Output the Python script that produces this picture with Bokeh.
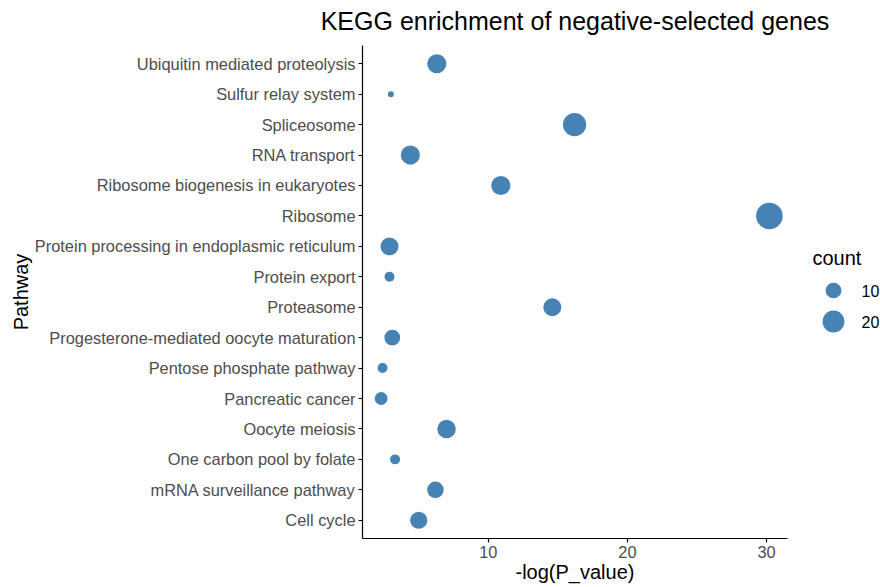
import numpy as np
from bokeh.plotting import figure
from bokeh.layouts import row, column
from bokeh.models import ColumnDataSource, Range1d, FixedTicker
from bokeh.core.properties import value
from bokeh.embed import file_html
from bokeh.resources import INLINE

# ---- data (top to bottom as in the chart) ----
pathways = [
    "Ubiquitin mediated proteolysis",
    "Sulfur relay system",
    "Spliceosome",
    "RNA transport",
    "Ribosome biogenesis in eukaryotes",
    "Ribosome",
    "Protein processing in endoplasmic reticulum",
    "Protein export",
    "Proteasome",
    "Progesterone-mediated oocyte maturation",
    "Pentose phosphate pathway",
    "Pancreatic cancer",
    "Oocyte meiosis",
    "One carbon pool by folate",
    "mRNA surveillance pathway",
    "Cell cycle",
]
neg_log_p = [6.3, 3.0, 16.2, 4.4, 10.9, 30.2, 2.9, 2.9, 14.6, 3.1, 2.4, 2.3, 7.0, 3.3, 6.2, 5.0]
counts = [15, 4, 23, 15, 15, 31, 13, 5, 13, 10, 5, 7, 14, 5, 11, 12]
x_ticks = [10, 20, 30]
legend_counts = [10, 20]
title_text = "KEGG enrichment of negative-selected genes"

FONT = "Liberation Sans"
COLOR = "#4682B4"

cmin, cmax = min(counts), max(counts)


def diam(c):
    c = np.asarray(c, dtype=float)
    return 2 * (3 + 10.3 * np.sqrt((c - cmin) / (cmax - cmin)))


n = len(pathways)
ypos = [n - i for i in range(n)]  # top item highest

TITLE_H = 40
MAIN_H = 587 - TITLE_H
FRAME_TOP, FRAME_BOTTOM = 45, 538

# ---- title strip ----
tf = figure(width=880, height=TITLE_H, output_backend="svg", toolbar_location=None,
            x_range=Range1d(0, 880), y_range=Range1d(TITLE_H, 0),
            x_axis_type=None, y_axis_type=None,
            min_border=0, min_border_left=0, min_border_right=0, min_border_top=0, min_border_bottom=0)
tf.outline_line_color = None
tf.xgrid.visible = False
tf.ygrid.visible = False
tf.text(x=[(362 + 787) / 2], y=[20], text=[title_text], text_font=value(FONT),
        text_font_size="25px", text_align="center", text_baseline="middle", text_color="black")

# ---- main plot ----
src = ColumnDataSource(dict(x=neg_log_p, y=ypos, size=diam(counts), name=pathways, count=counts))

p = figure(width=800, height=MAIN_H, output_backend="svg", toolbar_location=None,
           x_range=Range1d(0.96, 31.5), y_range=Range1d(0.4, n + 0.6),
           min_border_left=362, min_border_right=13, min_border_top=FRAME_TOP - TITLE_H,
           min_border_bottom=587 - FRAME_BOTTOM)
p.outline_line_color = None
p.xgrid.visible = False
p.ygrid.visible = False

p.scatter("x", "y", size="size", source=src, fill_color=COLOR, line_color=None, fill_alpha=1)

p.xaxis.ticker = FixedTicker(ticks=x_ticks)
p.yaxis.ticker = FixedTicker(ticks=ypos)
p.yaxis.major_label_overrides = {y: name for y, name in zip(ypos, pathways)}
p.xaxis.axis_label = "-log(P_value)"
p.yaxis.axis_label = "Pathway"

for ax in (p.xaxis, p.yaxis):
    ax.axis_line_color = "black"
    ax.axis_line_width = 1.2
    ax.major_tick_line_color = "black"
    ax.major_tick_line_width = 1.2
    ax.major_tick_out = 4
    ax.major_tick_in = 0
    ax.minor_tick_line_color = None
    ax.major_label_text_font = FONT
    ax.major_label_text_font_size = "16.4px"
    ax.major_label_text_color = "#4D4D4D"
    ax.axis_label_text_font = FONT
    ax.axis_label_text_font_size = "20px"
    ax.axis_label_text_font_style = "normal"
    ax.axis_label_text_color = "black"
    ax.major_label_standoff = 3
    ax.axis_label_standoff = 0

# ---- legend as a small companion figure (its frame is aligned with the main frame) ----
lg = figure(width=80, height=MAIN_H, output_backend="svg", toolbar_location=None,
            x_range=Range1d(0, 80), y_range=Range1d(FRAME_BOTTOM, FRAME_TOP),
            x_axis_type=None, y_axis_type=None,
            min_border=0, min_border_left=0, min_border_right=0,
            min_border_top=FRAME_TOP - TITLE_H, min_border_bottom=587 - FRAME_BOTTOM)
lg.outline_line_color = None
lg.xgrid.visible = False
lg.ygrid.visible = False
lg_y = [290, 321]
lg_src = ColumnDataSource(dict(x=[33] * len(legend_counts), y=lg_y, size=diam(legend_counts),
                               tx=[61] * len(legend_counts), label=[str(c) for c in legend_counts]))
lg.scatter("x", "y", size="size", source=lg_src, fill_color=COLOR, line_color=None)
lg.text("tx", "y", text="label", source=lg_src, text_font=value(FONT), text_font_size="16px",
        text_baseline="middle", text_align="left", text_color="black")
lg.text(x=[12], y=[257], text=["count"], text_font=value(FONT), text_font_size="20px",
        text_baseline="middle", text_align="left", text_color="black")

layout = column(tf, row(p, lg, spacing=0), spacing=0)
open("out.html", "w").write(file_html(layout, INLINE))
